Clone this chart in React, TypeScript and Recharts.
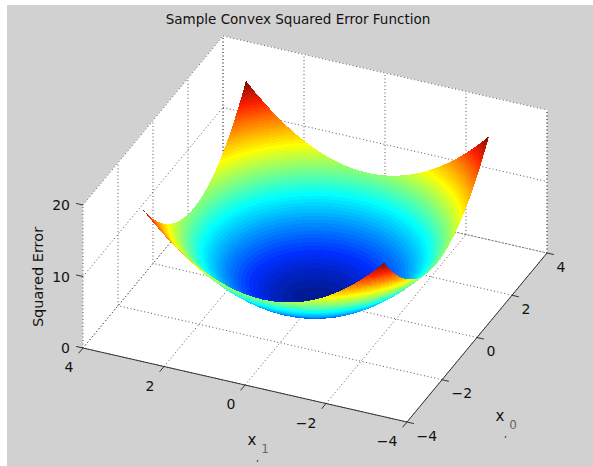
import { ScatterChart, Scatter, XAxis, YAxis } from 'recharts';

// grid of the surface, both inputs run over the same values
const X0_VALUES = [3, 2.75, 2.5, 2.25, 2, 1.75, 1.5, 1.25, 1, 0.75, 0.5, 0.25, 0, -0.25, -0.5, -0.75, -1, -1.25, -1.5, -1.75, -2, -2.25, -2.5, -2.75, -3];
const X1_VALUES = [3, 2.75, 2.5, 2.25, 2, 1.75, 1.5, 1.25, 1, 0.75, 0.5, 0.25, 0, -0.25, -0.5, -0.75, -1, -1.25, -1.5, -1.75, -2, -2.25, -2.5, -2.75, -3];

// squared error read from x1 = 3 to x1 = 0, the bowl mirrors around x1 = 0
const ROW_300 = [18, 16.56, 15.25, 14.06, 13, 12.06, 11.25, 10.56, 10, 9.56, 9.25, 9.06, 9];
const ROW_275 = [16.56, 15.13, 13.81, 12.63, 11.56, 10.63, 9.81, 9.13, 8.56, 8.13, 7.81, 7.63, 7.56];
const ROW_250 = [15.25, 13.81, 12.5, 11.31, 10.25, 9.31, 8.5, 7.81, 7.25, 6.81, 6.5, 6.31, 6.25];
const ROW_225 = [14.06, 12.63, 11.31, 10.13, 9.06, 8.13, 7.31, 6.63, 6.06, 5.63, 5.31, 5.13, 5.06];
const ROW_200 = [13, 11.56, 10.25, 9.06, 8, 7.06, 6.25, 5.56, 5, 4.56, 4.25, 4.06, 4];
const ROW_175 = [12.06, 10.63, 9.31, 8.13, 7.06, 6.13, 5.31, 4.63, 4.06, 3.63, 3.31, 3.13, 3.06];
const ROW_150 = [11.25, 9.81, 8.5, 7.31, 6.25, 5.31, 4.5, 3.81, 3.25, 2.81, 2.5, 2.31, 2.25];
const ROW_125 = [10.56, 9.13, 7.81, 6.63, 5.56, 4.63, 3.81, 3.13, 2.56, 2.13, 1.81, 1.63, 1.56];
const ROW_100 = [10, 8.56, 7.25, 6.06, 5, 4.06, 3.25, 2.56, 2, 1.56, 1.25, 1.06, 1];
const ROW_075 = [9.56, 8.13, 6.81, 5.63, 4.56, 3.63, 2.81, 2.13, 1.56, 1.13, 0.81, 0.63, 0.56];
const ROW_050 = [9.25, 7.81, 6.5, 5.31, 4.25, 3.31, 2.5, 1.81, 1.25, 0.81, 0.5, 0.31, 0.25];
const ROW_025 = [9.06, 7.63, 6.31, 5.13, 4.06, 3.13, 2.31, 1.63, 1.06, 0.63, 0.31, 0.13, 0.06];
const ROW_000 = [9, 7.56, 6.25, 5.06, 4, 3.06, 2.25, 1.56, 1, 0.56, 0.25, 0.06, 0];

const HALF_ROWS = [
    ROW_300, ROW_275, ROW_250, ROW_225, ROW_200, ROW_175, ROW_150, ROW_125, ROW_100, ROW_075, ROW_050, ROW_025, ROW_000,
    ROW_025, ROW_050, ROW_075, ROW_100, ROW_125, ROW_150, ROW_175, ROW_200, ROW_225, ROW_250, ROW_275, ROW_300
];
const ERROR_ROWS = HALF_ROWS.map((row) => [...row, ...row.slice(0, -1).reverse()]);

const X0_TICKS = [-4, -2, 0, 2, 4];
const X1_TICKS = [4, 2, 0, -2, -4];
const Z_TICKS = [0, 10, 20];
const TITLE = 'Sample Convex Squared Error Function';
const Z_LABEL = 'Squared Error';
const FONT = '"DejaVu Sans", sans-serif';

const WIDTH = 593;
const HEIGHT = 466;
const COLOR_MAX = 18;

type Pt = { x: number; y: number };
type Mark = Pt & { pts: Pt[]; grad?: { a: Pt; b: Pt }; id?: string };

// box corners on the page: front (407,422), left (83,348), right (547,253)
const project = (x0: number, x1: number, z: number): Pt => {
    const u = (x1 + 4) / 8;
    const v = (x0 + 4) / 8;
    return { x: 407 - 324 * u + 140 * v, y: 422 - 74 * u - 169 * v - 7.15 * z };
};

const toMark = (pts: Pt[]): Mark => ({
    x: pts.reduce((s, p) => s + p.x, 0) / pts.length,
    y: pts.reduce((s, p) => s + p.y, 0) / pts.length,
    pts
});

const jetChannel = (t: number) => Math.max(0, Math.min(1, 1.5 - Math.abs(4 * t)));

// jet with 64 levels, the reference screenshot has a little green mixed into its pure blues and reds
const jetColor = (i: number) => {
    const t = (i + 1) / 64;
    const r = jetChannel(t - 0.75);
    const g = jetChannel(t - 0.5);
    const b = jetChannel(t - 0.25);
    const green = g + (1 - g) * (0.18 * b + 0.12 * r);
    const blue = r > 0 ? b : b + (1 - b) * 0.08;
    return `rgb(${Math.round(255 * r)},${Math.round(255 * green)},${Math.round(255 * blue)})`;
};
const JET_STOPS = Array.from({ length: 64 }, (_, i) => i).flatMap((i) => [
    <stop key={`${i}a`} offset={i / 64} stopColor={jetColor(i)} />,
    <stop key={`${i}b`} offset={(i + 1) / 64} stopColor={jetColor(i)} />
]);

// one triangle, with a gradient running along the slope of z on the page
const triangle = (corners: [number, number, number][], id: string): Mark => {
    const [A, B, C] = corners.map(([x0, x1, z]) => ({ ...project(x0, x1, z), z }));
    const ux = B.x - A.x, uy = B.y - A.y, uz = B.z - A.z;
    const vx = C.x - A.x, vy = C.y - A.y, vz = C.z - A.z;
    const det = ux * vy - uy * vx;
    const gx = (uz * vy - vz * uy) / det;
    const gy = (ux * vz - vx * uz) / det;
    const g2 = gx * gx + gy * gy || 1e-9;
    const mark = toMark([A, B, C]);
    mark.id = id;
    mark.grad = {
        a: { x: A.x - (gx * A.z) / g2, y: A.y - (gy * A.z) / g2 },
        b: { x: A.x + (gx * (COLOR_MAX - A.z)) / g2, y: A.y + (gy * (COLOR_MAX - A.z)) / g2 }
    };
    return mark;
};

// painted from the back corner towards the front one
const SURFACE: Mark[] = [];
for (let i = 0; i < X0_VALUES.length - 1; i++) {
    for (let j = 0; j < X1_VALUES.length - 1; j++) {
        const p = (a: number, b: number): [number, number, number] => [X0_VALUES[a], X1_VALUES[b], ERROR_ROWS[a][b]];
        SURFACE.push(triangle([p(i, j), p(i, j + 1), p(i + 1, j)], `t${i}-${j}-a`));
        SURFACE.push(triangle([p(i + 1, j + 1), p(i, j + 1), p(i + 1, j)], `t${i}-${j}-b`));
    }
}

const WALLS = [
    toMark([project(-4, 4, 0), project(4, 4, 0), project(4, -4, 0), project(-4, -4, 0)]),
    toMark([project(-4, 4, 0), project(-4, 4, 20), project(4, 4, 20), project(4, 4, 0)]),
    toMark([project(4, 4, 0), project(4, 4, 20), project(4, -4, 20), project(4, -4, 0)])
];

const line = (a: Pt, b: Pt) => toMark([a, b]);

const DOTTED: Mark[] = [
    ...X0_TICKS.flatMap((t) => [
        line(project(t, -4, 0), project(t, 4, 0)),
        line(project(t, 4, 0), project(t, 4, 20))
    ]),
    ...X1_TICKS.flatMap((t) => [
        line(project(-4, t, 0), project(4, t, 0)),
        line(project(4, t, 0), project(4, t, 20))
    ]),
    ...Z_TICKS.flatMap((t) => [
        line(project(-4, 4, t), project(4, 4, t)),
        line(project(4, 4, t), project(4, -4, t))
    ]),
    line(project(4, -4, 0), project(4, -4, 20))
];

const SOLID: Mark[] = [
    line(project(-4, 4, 0), project(-4, -4, 0)),
    line(project(-4, -4, 0), project(4, -4, 0)),
    ...X0_TICKS.map((t) => line(project(t, -4, 0), project(t, -4.17, 0))),
    ...X1_TICKS.map((t) => line(project(-4, t, 0), project(-4.25, t, 0))),
    ...Z_TICKS.map((t) => line(project(-4, 4, t), project(-4, 4.17, t)))
];

type Label = Pt & { text: string; anchor: 'start' | 'middle' | 'end'; size: number; fill?: string; rotate?: number };
const num = (t: number) => String(t).replace('-', '\u2212');

const LABELS: Label[] = [
    { x: 298, y: 19, text: TITLE, anchor: 'middle', size: 13.5 },
    { x: 38, y: 277, text: Z_LABEL, anchor: 'middle', size: 14.5, rotate: -90 },
    ...Z_TICKS.map((t): Label => ({ x: 70, y: project(-4, 4, t).y, text: num(t), anchor: 'end', size: 14 })),
    ...X0_TICKS.map((t): Label => {
        const p = project(t, -4, 0);
        return { x: p.x + 9.5, y: p.y + 13.5, text: num(t), anchor: 'start', size: 14 };
    }),
    ...X1_TICKS.map((t): Label => {
        const p = project(-4, t, 0);
        return { x: p.x - 9.5, y: p.y + 19, text: num(t), anchor: 'end', size: 14 };
    }),
    { x: 252, y: 440, text: 'x', anchor: 'middle', size: 15 },
    { x: 265, y: 449, text: '1', anchor: 'middle', size: 12, fill: '#666' },
    { x: 500, y: 416, text: 'x', anchor: 'middle', size: 15 },
    { x: 513, y: 425, text: '0', anchor: 'middle', size: 12, fill: '#666' }
];

const AXIS_LETTER_MARKS = [line({ x: 258, y: 460 }, { x: 257, y: 462 }), line({ x: 506, y: 436 }, { x: 505, y: 438 })];

const relPoints = (m: Mark, cx: number, cy: number) =>
    m.pts.map((p) => `${p.x - m.x + cx},${p.y - m.y + cy}`).join(' ');

const WallShape = (props: any) => (
    <polygon points={relPoints(props.payload, props.cx, props.cy)} fill="#fff" stroke="#fff" strokeWidth={0.5} />
);
const DottedShape = (props: any) => (
    <polyline points={relPoints(props.payload, props.cx, props.cy)} fill="none" stroke="#555" strokeWidth={1} strokeDasharray="1 2.5" />
);
const SolidShape = (props: any) => (
    <polyline points={relPoints(props.payload, props.cx, props.cy)} fill="none" stroke="#333" strokeWidth={1} />
);
const FacetShape = (props: any) => {
    const m: Mark = props.payload;
    const dx = props.cx - m.x;
    const dy = props.cy - m.y;
    return (
        <g>
            <linearGradient
                id={m.id}
                href="#jet"
                gradientUnits="userSpaceOnUse"
                x1={m.grad!.a.x + dx}
                y1={m.grad!.a.y + dy}
                x2={m.grad!.b.x + dx}
                y2={m.grad!.b.y + dy}
            />
            <polygon points={relPoints(m, props.cx, props.cy)} fill={`url(#${m.id})`} shapeRendering="crispEdges" />
        </g>
    );
};
const LabelShape = (props: any) => {
    const l: Label = props.payload;
    return (
        <text
            x={props.cx}
            y={props.cy}
            textAnchor={l.anchor}
            dominantBaseline="central"
            fontFamily={FONT}
            fontSize={l.size}
            fill={l.fill ?? '#111'}
            transform={l.rotate ? `rotate(${l.rotate} ${props.cx} ${props.cy})` : undefined}
        >
            {l.text}
        </text>
    );
};

export default function App() {
    return (
        <div style={{ position: 'absolute', left: 0, top: 0, width: WIDTH, height: HEIGHT, overflow: 'hidden', background: '#fff' }}>
            <div style={{ position: 'absolute', left: 7, top: 5, right: 0, bottom: 0, background: '#d1d1d1' }} />
            <div style={{ position: 'absolute', left: 0, top: 0 }}>
                <ScatterChart width={WIDTH} height={HEIGHT} margin={{ top: 0, right: 0, bottom: 0, left: 0 }}>
                    <defs>
                        <linearGradient id="jet">{JET_STOPS}</linearGradient>
                    </defs>
                    <XAxis type="number" dataKey="x" domain={[0, WIDTH]} hide />
                    <YAxis type="number" dataKey="y" domain={[0, HEIGHT]} reversed hide />
                    <Scatter data={WALLS} shape={WallShape} isAnimationActive={false} />
                    <Scatter data={DOTTED} shape={DottedShape} isAnimationActive={false} />
                    <Scatter data={SOLID} shape={SolidShape} isAnimationActive={false} />
                    <Scatter data={SURFACE} shape={FacetShape} isAnimationActive={false} />
                    <Scatter data={AXIS_LETTER_MARKS} shape={SolidShape} isAnimationActive={false} />
                    <Scatter data={LABELS} shape={LabelShape} isAnimationActive={false} />
                </ScatterChart>
            </div>
        </div>
    );
}
